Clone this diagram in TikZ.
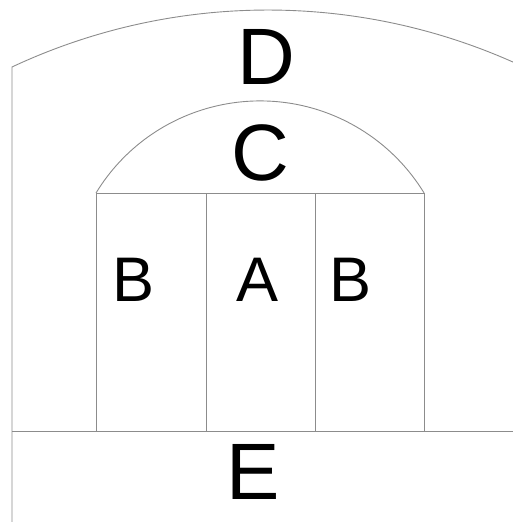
\documentclass[tikz,border=0pt]{standalone}
\usepackage{fontspec}
\setmainfont{Liberation Sans}
\begin{document}
\begin{tikzpicture}[x=1bp,y=1bp,
  wall/.style={draw=black!45,line width=0.9bp},
  bigl/.style={inner sep=0pt,font=\fontsize{80bp}{80bp}\selectfont},
  midl/.style={inner sep=0pt,font=\fontsize{63bp}{63bp}\selectfont}]
\useasboundingbox (0,0) rectangle (513,522);
% outer wall and vault
\draw[wall] (12,0) -- (12,455) arc[start angle=115.1,end angle=65.8,radius=603.3];
% floor line
\draw[wall] (12,91) -- (513,91);
% inner block
\draw[wall] (96,91) rectangle (424,329);
\draw[wall] (206,91) -- (206,329);
\draw[wall] (315,91) -- (315,329);
% inner arch
\draw[wall] (96,329) arc[start angle=148.6,end angle=31.4,radius=192.2];
% labels
\node[bigl] (D) at (266,465.5) {D};
\node[bigl] (C) at (260,369.5) {C};
\node[midl] (B1) at (134,242.5) {B};
\node[midl] (A) at (257.5,242.5) {A};
\node[midl] (B2) at (351,242.5) {B};
\node[bigl] (E) at (253,50.5) {E};
\end{tikzpicture}
\end{document}
